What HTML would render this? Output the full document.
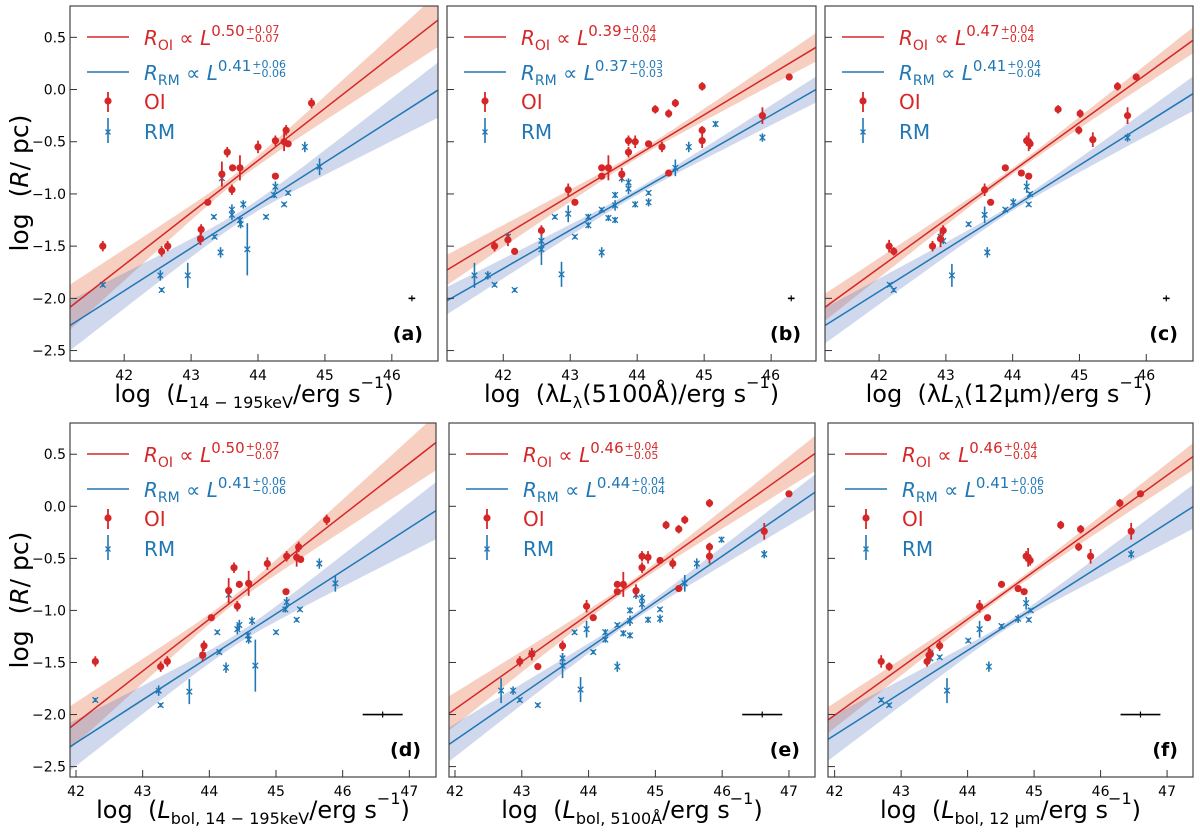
<!DOCTYPE html>
<html><head><meta charset="utf-8"><style>
html,body{margin:0;padding:0;background:#fff;}
svg{display:block;font-family:"DejaVu Sans","Liberation Sans",sans-serif;}
</style></head><body>
<svg id="fig" width="1200" height="832" viewBox="0 0 1200 832" xmlns="http://www.w3.org/2000/svg"></svg>
<script>
// ===== Data (panel a) =====
const oiX_a=[41.68,42.56,42.65,43.15,43.14,43.25,43.46,43.61,43.54,43.62,43.73,44.0,44.26,44.26,44.42,44.39,44.45,44.8];
const oiY_a=[-1.50,-1.55,-1.50,-1.34,-1.43,-1.08,-0.81,-0.96,-0.60,-0.75,-0.75,-0.55,-0.49,-0.83,-0.39,-0.50,-0.52,-0.13];
const oiE_a=[0.05,0.05,0.05,0.05,0.06,0.03,0.12,0.05,0.05,0.03,0.12,0.06,0.05,0.03,0.05,0.09,0.03,0.05];
const rmX_a=[41.68,42.54,42.56,42.95,43.14,43.34,43.35,43.44,43.46,43.61,43.61,43.73,43.74,43.78,43.84,44.12,44.24,44.26,44.39,44.45,44.7,44.92];
const rmY_a=[-1.87,-1.78,-1.92,-1.78,-1.43,-1.22,-1.41,-1.56,-0.85,-1.15,-1.20,-1.25,-1.29,-1.10,-1.53,-1.22,-1.01,-0.93,-1.10,-0.99,-0.55,-0.74];
const rmE_a=[0.02,0.05,0.02,0.12,0.04,0.02,0.02,0.05,0.03,0.05,0.05,0.04,0.04,0.04,0.25,0.02,0.03,0.05,0.02,0.02,0.05,0.08];
// ===== Data (panel b) =====
const oiX_b=[41.87,42.07,42.17,42.57,42.97,43.07,43.47,43.47,43.57,43.77,43.87,43.87,43.97,44.17,44.27,44.37,44.47,44.47,44.57,44.97,44.97,44.97,45.87,46.27];
const oiY_b=[-1.50,-1.44,-1.55,-1.35,-0.96,-1.08,-0.75,-0.83,-0.75,-0.81,-0.49,-0.60,-0.50,-0.52,-0.19,-0.55,-0.23,-0.80,-0.13,0.03,-0.39,-0.49,-0.25,0.12];
const oiE_b=[0.05,0.06,0.03,0.05,0.06,0.03,0.03,0.03,0.12,0.06,0.05,0.05,0.06,0.03,0.04,0.05,0.04,0.03,0.04,0.04,0.04,0.07,0.08,0.03];
const rmX_b=[41.57,41.77,41.87,42.07,42.17,42.57,42.57,42.77,42.87,42.97,43.07,43.27,43.27,43.47,43.47,43.57,43.67,43.67,43.67,43.77,43.87,43.87,43.97,44.17,44.17,44.57,44.77,45.17,45.87];
const rmY_b=[-1.78,-1.78,-1.87,-1.41,-1.92,-1.53,-1.45,-1.22,-1.77,-1.19,-1.41,-1.22,-1.30,-1.15,-1.56,-1.23,-1.01,-1.11,-1.25,-0.85,-0.89,-0.95,-1.10,-0.99,-1.08,-0.75,-0.55,-0.33,-0.46];
const rmE_b=[0.12,0.04,0.02,0.04,0.02,0.15,0.05,0.02,0.12,0.08,0.02,0.03,0.03,0.02,0.05,0.03,0.03,0.05,0.03,0.04,0.04,0.05,0.03,0.02,0.04,0.08,0.05,0.03,0.04];
// ===== Data (panel c) =====
const oiX_c=[42.15,42.22,42.80,42.92,42.96,43.58,43.67,43.89,44.13,44.24,44.21,44.24,44.26,44.68,44.99,45.01,45.20,45.57,45.72,45.85];
const oiY_c=[-1.50,-1.55,-1.50,-1.43,-1.35,-0.96,-1.08,-0.75,-0.80,-0.83,-0.49,-0.50,-0.52,-0.19,-0.39,-0.23,-0.48,0.03,-0.25,0.12];
const oiE_c=[0.06,0.04,0.05,0.08,0.05,0.06,0.03,0.03,0.03,0.03,0.05,0.09,0.05,0.04,0.04,0.04,0.07,0.04,0.08,0.03];
const rmX_c=[42.16,42.22,42.92,42.96,43.09,43.34,43.58,43.62,43.89,44.01,44.21,44.24,44.26,45.72];
const rmY_c=[-1.87,-1.92,-1.41,-1.45,-1.78,-1.29,-1.20,-1.56,-1.15,-1.08,-0.93,-1.10,-1.00,-0.46];
const rmE_c=[0.02,0.02,0.04,0.03,0.11,0.02,0.08,0.05,0.02,0.04,0.06,0.02,0.02,0.04];
// ===== Data (panel d) =====
const oiX_d=[42.29,43.27,43.37,43.92,43.90,44.03,44.29,44.42,44.37,44.45,44.59,44.87,45.16,45.15,45.34,45.31,45.37,45.76];
const oiY_d=[-1.49,-1.54,-1.49,-1.34,-1.43,-1.07,-0.81,-0.96,-0.59,-0.75,-0.74,-0.55,-0.48,-0.82,-0.39,-0.49,-0.51,-0.13];
const oiE_d=[0.05,0.05,0.05,0.05,0.06,0.03,0.12,0.05,0.05,0.03,0.12,0.06,0.05,0.03,0.05,0.09,0.03,0.05];
const rmX_d=[42.29,43.24,43.27,43.70,43.90,44.12,44.15,44.25,44.29,44.42,44.45,44.58,44.59,44.64,44.69,45.0,45.14,45.16,45.31,45.36,45.65,45.89];
const rmY_d=[-1.86,-1.77,-1.91,-1.78,-1.43,-1.21,-1.40,-1.55,-0.85,-1.18,-1.14,-1.24,-1.28,-1.10,-1.53,-1.21,-0.99,-0.92,-1.09,-0.99,-0.55,-0.74];
const rmE_d=[0.02,0.05,0.02,0.12,0.04,0.02,0.02,0.05,0.03,0.05,0.05,0.04,0.04,0.04,0.25,0.02,0.03,0.05,0.02,0.02,0.05,0.08];
// ===== Data (panel e) =====
const oiX_e=[42.97,43.15,43.24,43.61,43.97,44.07,44.43,44.43,44.52,44.71,44.80,44.80,44.89,45.07,45.16,45.26,45.35,45.35,45.44,45.81,45.81,45.81,46.63,47.0];
const oiY_e=[-1.49,-1.42,-1.54,-1.34,-0.96,-1.07,-0.75,-0.82,-0.75,-0.81,-0.48,-0.59,-0.49,-0.52,-0.18,-0.55,-0.22,-0.79,-0.13,0.03,-0.39,-0.48,-0.24,0.12];
const oiE_e=[0.05,0.06,0.03,0.05,0.06,0.03,0.03,0.03,0.12,0.06,0.05,0.05,0.06,0.03,0.04,0.05,0.04,0.03,0.04,0.04,0.04,0.07,0.08,0.03];
const rmX_e=[42.69,42.87,42.97,43.15,43.24,43.61,43.61,43.79,43.88,43.97,44.07,44.25,44.25,44.43,44.43,44.52,44.62,44.62,44.62,44.71,44.80,44.80,44.89,45.07,45.07,45.44,45.62,45.99,46.63];
const rmY_e=[-1.77,-1.77,-1.86,-1.41,-1.91,-1.46,-1.53,-1.21,-1.76,-1.18,-1.40,-1.21,-1.28,-1.14,-1.54,-1.22,-1.00,-1.10,-1.24,-0.85,-0.88,-0.94,-1.09,-0.99,-1.08,-0.74,-0.55,-0.32,-0.46];
const rmE_e=[0.12,0.04,0.02,0.04,0.02,0.05,0.12,0.02,0.12,0.08,0.02,0.03,0.03,0.02,0.05,0.03,0.03,0.05,0.03,0.04,0.04,0.05,0.03,0.02,0.04,0.08,0.05,0.03,0.04];
// ===== Data (panel f) =====
const oiX_f=[42.70,42.82,43.39,43.42,43.44,43.58,44.18,44.30,44.51,44.76,44.85,44.88,44.91,44.94,45.40,45.67,45.70,45.85,46.29,46.46,46.60];
const oiY_f=[-1.49,-1.54,-1.49,-1.43,-1.42,-1.34,-0.96,-1.07,-0.75,-0.79,-0.82,-0.48,-0.49,-0.52,-0.18,-0.39,-0.22,-0.48,0.03,-0.24,0.12];
const oiE_f=[0.06,0.04,0.05,0.08,0.05,0.05,0.06,0.03,0.03,0.03,0.03,0.05,0.09,0.05,0.04,0.04,0.04,0.07,0.04,0.08,0.03];
const rmX_f=[42.70,42.82,43.44,43.44,43.58,43.69,44.01,44.18,44.32,44.51,44.76,44.88,44.92,44.95,46.46];
const rmY_f=[-1.86,-1.91,-1.41,-1.46,-1.45,-1.77,-1.29,-1.18,-1.54,-1.15,-1.08,-0.93,-1.09,-1.00,-0.46];
const rmE_f=[0.02,0.02,0.04,0.03,0.02,0.12,0.02,0.08,0.05,0.02,0.04,0.06,0.02,0.02,0.04];
// ===== Fits: value at log L = 44, slope =====
const fitOI_at44=[-0.68,-0.629,-0.781,-1.084,-1.037,-1.085];
const fitOI_slope=[0.50,0.387,0.464,0.499,0.4555,0.461];
const fitRM_at44=[-1.108,-0.98,-1.128,-1.446,-1.363,-1.384];
const fitRM_slope=[0.41,0.367,0.403,0.413,0.442,0.407];
const bandOI_pivot=[43.7,44.0,44.0,44.3,44.6,44.6];
const bandOI_w0=[0.04,0.03,0.03,0.04,0.03,0.03];
const bandOI_ws=[0.085,0.05,0.045,0.085,0.06,0.045];
const bandRM_pivot=[43.8,44.0,44.0,44.4,44.6,44.6];
const bandRM_w0=[0.05,0.03,0.03,0.05,0.03,0.03];
const bandRM_ws=[0.09,0.045,0.06,0.09,0.06,0.075];
const expOI=[["0.50","+0.07","−0.07"],["0.39","+0.04","−0.04"],["0.47","+0.04","−0.04"],["0.50","+0.07","−0.07"],["0.46","+0.04","−0.05"],["0.46","+0.04","−0.04"]];
const expRM=[["0.41","+0.06","−0.06"],["0.37","+0.03","−0.03"],["0.41","+0.04","−0.04"],["0.41","+0.06","−0.06"],["0.44","+0.04","−0.04"],["0.41","+0.06","−0.05"]];
const errCrossX=[46.3,46.3,46.3,46.6,46.6,46.6];
const errCrossHalf=[0.05,0.05,0.05,0.3,0.3,0.3];
const errCrossY=-2.0;
const yTicks=[0.5,0.0,-0.5,-1.0,-1.5,-2.0,-2.5];
const xTicksTop=[42,43,44,45,46];
const xTicksBot=[42,43,44,45,46,47];
const panelLetters=["(a)","(b)","(c)","(d)","(e)","(f)"];

const NS="http://www.w3.org/2000/svg";
const svg=document.getElementById('fig');
const RED="#d62728", BLUE="#1f77b4";
function mk(tag,attrs,parent){const e=document.createElementNS(NS,tag);for(const k in attrs)e.setAttribute(k,attrs[k]);(parent||svg).appendChild(e);return e;}

const panels=[
 {L:70,R:438,T:6,B:361,x0:41.19,x1:46.69,ticks:xTicksTop,oiX:oiX_a,oiY:oiY_a,oiE:oiE_a,rmX:rmX_a,rmY:rmY_a,rmE:rmE_a},
 {L:447,R:816,T:6,B:361,x0:41.16,x1:46.67,ticks:xTicksTop,oiX:oiX_b,oiY:oiY_b,oiE:oiE_b,rmX:rmX_b,rmY:rmY_b,rmE:rmE_b},
 {L:825,R:1193,T:6,B:361,x0:41.19,x1:46.70,ticks:xTicksTop,oiX:oiX_c,oiY:oiY_c,oiE:oiE_c,rmX:rmX_c,rmY:rmY_c,rmE:rmE_c},
 {L:70,R:436,T:423,B:777,x0:41.91,x1:47.40,ticks:xTicksBot,oiX:oiX_d,oiY:oiY_d,oiE:oiE_d,rmX:rmX_d,rmY:rmY_d,rmE:rmE_d},
 {L:449,R:815,T:423,B:777,x0:41.91,x1:47.39,ticks:xTicksBot,oiX:oiX_e,oiY:oiY_e,oiE:oiE_e,rmX:rmX_e,rmY:rmY_e,rmE:rmE_e},
 {L:828,R:1193,T:423,B:777,x0:41.90,x1:47.39,ticks:xTicksBot,oiX:oiX_f,oiY:oiY_f,oiE:oiE_f,rmX:rmX_f,rmY:rmY_f,rmE:rmE_f}
];
const LG="log\u00a0\u00a0(";
const xTitles=[
 [[LG,""],["L","i"],["14\u00a0−\u00a0195keV","s"],["/erg s",""],["−1","u"],[")",""]],
 [[LG+"λ",""],["L","i"],["λ","s"],["(5100Å)/erg s",""],["−1","u"],[")",""]],
 [[LG+"λ",""],["L","i"],["λ","s"],["(12μm)/erg s",""],["−1","u"],[")",""]],
 [[LG,""],["L","i"],["bol,\u00a014\u00a0−\u00a0195keV","s"],["/erg s",""],["−1","u"],[")",""]],
 [[LG,""],["L","i"],["bol,\u00a05100Å","s"],["/erg s",""],["−1","u"],[")",""]],
 [[LG,""],["L","i"],["bol,\u00a012\u00a0μm","s"],["/erg s",""],["−1","u"],[")",""]]
];
const Y0=0.8,Y1=-2.6;

panels.forEach((p,i)=>{
 const g=mk('g',{});
 
 
 const sx=v=>p.L+(v-p.x0)/(p.x1-p.x0)*(p.R-p.L);
 const sy=v=>p.T+(Y0-v)/(Y0-Y1)*(p.B-p.T);
 const cid='clip'+i;
 const cp=mk('clipPath',{id:cid},g);
 mk('rect',{x:p.L,y:p.T,width:p.R-p.L,height:p.B-p.T},cp);
 const plot=mk('g',{'clip-path':'url(#'+cid+')'},g);
 function band(a44,b,piv,w0,ws,fill,name){
  let up=[],lo=[];
  for(let k=0;k<=60;k++){const x=p.x0+(p.x1-p.x0)*k/60;const y=a44+b*(x-44);const hw=Math.sqrt(w0*w0+Math.pow(ws*(x-piv),2));up.push(sx(x).toFixed(1)+','+sy(y+hw).toFixed(1));lo.unshift(sx(x).toFixed(1)+','+sy(y-hw).toFixed(1));}
  const e=mk('polygon',{points:up.concat(lo).join(' '),fill:fill},plot);
  
  
 }
 band(fitOI_at44[i],fitOI_slope[i],bandOI_pivot[i],bandOI_w0[i],bandOI_ws[i],'rgba(234,130,90,0.38)','oi-fit-band');
 band(fitRM_at44[i],fitRM_slope[i],bandRM_pivot[i],bandRM_w0[i],bandRM_ws[i],'rgba(95,125,195,0.30)','rm-fit-band');
 function fline(a44,b,col,name){
  const e=mk('line',{x1:sx(p.x0),y1:sy(a44+b*(p.x0-44)),x2:sx(p.x1),y2:sy(a44+b*(p.x1-44)),stroke:col,'stroke-width':1.5},plot);
  
  
 }
 fline(fitOI_at44[i],fitOI_slope[i],RED,'oi-fit-line');
 fline(fitRM_at44[i],fitRM_slope[i],BLUE,'rm-fit-line');
 p.rmX.forEach((x,j)=>{
  const cx=sx(x),cy=sy(p.rmY[j]),e=p.rmE[j];
  const m=mk('g',{stroke:BLUE,'stroke-width':1.3},plot);
  
  
  mk('line',{x1:cx,x2:cx,y1:sy(p.rmY[j]+e),y2:sy(p.rmY[j]-e),'stroke-width':1.6},m);
  mk('path',{d:`M${cx-2.8},${cy-2.8}L${cx+2.8},${cy+2.8}M${cx-2.8},${cy+2.8}L${cx+2.8},${cy-2.8}`,fill:'none'},m);
 });
 p.oiX.forEach((x,j)=>{
  const cx=sx(x),cy=sy(p.oiY[j]),e=p.oiE[j];
  const m=mk('g',{},plot);
  
  
  mk('line',{x1:cx,x2:cx,y1:sy(p.oiY[j]+e),y2:sy(p.oiY[j]-e),stroke:RED,'stroke-width':1.8},m);
  mk('circle',{cx:cx,cy:cy,r:3.6,fill:RED},m);
 });
 const ec=mk('g',{stroke:'#000','stroke-width':1.6},g);
 
 
 const ecx=sx(errCrossX[i]),ecy=sy(errCrossY);
 mk('line',{x1:sx(errCrossX[i]-errCrossHalf[i]),x2:sx(errCrossX[i]+errCrossHalf[i]),y1:ecy,y2:ecy},ec);
 mk('line',{x1:ecx,x2:ecx,y1:ecy-3,y2:ecy+3,'stroke-width':1.2},ec);
 const fr=mk('rect',{x:p.L,y:p.T,width:p.R-p.L,height:p.B-p.T,fill:'none',stroke:'#444','stroke-width':1.2},g);
 
 
 yTicks.forEach(v=>{
  const y=sy(v);
  mk('line',{x1:p.L,x2:p.L+7,y1:y,y2:y,stroke:'#333','stroke-width':1},g);
  if(i===0||i===3){
   const t=mk('text',{x:p.L-4,y:y+5,'text-anchor':'end','font-size':14,fill:'#000'},g);
   
   
   t.textContent=(v<0?'−':'')+Math.abs(v).toFixed(1);
  }
 });
 p.ticks.forEach(v=>{
  const x=sx(v);
  mk('line',{x1:x,x2:x,y1:p.B,y2:p.B-7,stroke:'#333','stroke-width':1},g);
  const t=mk('text',{x:x,y:p.B+19,'text-anchor':'middle','font-size':14,fill:'#000'},g);
  
  
  t.textContent=v;
 });
 const xt=mk('text',{x:(p.L+p.R)/2,y:p.B+41,'text-anchor':'middle','font-size':24,fill:'#000'},g);
 
 
 xTitles[i].forEach(([s,k])=>{
  const ts=mk('tspan',{},xt);
  if(k==='i')ts.setAttribute('font-style','italic');
  if(k==='s'){ts.setAttribute('font-size',16);ts.setAttribute('dy',6);}
  if(k==='u'){ts.setAttribute('font-size',16);ts.setAttribute('dy',-14);}
  ts.textContent=s;
  if(k==='s'){const r=mk('tspan',{dy:-6},xt);r.textContent='\u200b';}
  if(k==='u'){const r=mk('tspan',{dy:14},xt);r.textContent='\u200b';}
 });
 const pl=mk('text',{x:p.R-15,y:p.B-21,'text-anchor':'end','font-size':19,'font-weight':'bold',fill:'#000'},g);
 
 
 pl.textContent=panelLetters[i];
 const lg=mk('g',{},g);
 
 
 const lx=p.L;
 [[RED,'OI',expOI[i],31],[BLUE,'RM',expRM[i],66]].forEach(([col,sub,ex,yy])=>{
  const en=mk('g',{},lg);
  
  
  mk('line',{x1:lx+17,x2:lx+59,y1:p.T+yy,y2:p.T+yy,stroke:col,'stroke-width':1.5},en);
  const t=mk('text',{x:lx+74,y:p.T+yy+8,'font-size':20,fill:col},en);
  const a=mk('tspan',{'font-style':'italic'},t);a.textContent='R';
  const b=mk('tspan',{'font-size':14,dy:5},t);b.textContent=sub;
  const c=mk('tspan',{dy:-5},t);c.textContent='\u00a0∝\u00a0';
  const d=mk('tspan',{'font-style':'italic'},t);d.textContent='L';
  const e=mk('tspan',{'font-size':15,dy:-9},t);e.textContent=ex[0];
  let w=120;
  try{w=t.getComputedTextLength();}catch(err){}
  const tp=mk('text',{x:lx+74+w+1,y:p.T+yy-4,'font-size':11,fill:col},en);tp.textContent=ex[1];
  const tm=mk('text',{x:lx+74+w+1,y:p.T+yy+5,'font-size':11,fill:col},en);tm.textContent=ex[2];
 });
 const eo=mk('g',{},lg);
 
 
 mk('line',{x1:lx+38,x2:lx+38,y1:p.T+86,y2:p.T+106,stroke:RED,'stroke-width':1.8},eo);
 mk('circle',{cx:lx+38,cy:p.T+95,r:3.6,fill:RED},eo);
 const to=mk('text',{x:lx+74,y:p.T+103,'font-size':20,fill:RED},eo);to.textContent='OI';
 const er=mk('g',{},lg);
 
 
 const ry=p.T+126;
 mk('line',{x1:lx+38,x2:lx+38,y1:ry-14,y2:ry+11,stroke:BLUE,'stroke-width':1.6},er);
 mk('path',{d:`M${lx+35.5},${ry-2.5}L${lx+40.5},${ry+2.5}M${lx+35.5},${ry+2.5}L${lx+40.5},${ry-2.5}`,stroke:BLUE,'stroke-width':1.3},er);
 const tr=mk('text',{x:lx+74,y:p.T+133,'font-size':20,fill:BLUE},er);tr.textContent='RM';
});
[[183],[600]].forEach(([cy],k)=>{
 const t=mk('text',{transform:`translate(28,${cy}) rotate(-90)`,'text-anchor':'middle','font-size':25,fill:'#000'});
 
 
 const a=mk('tspan',{},t);a.textContent='log\u00a0\u00a0(';
 const b=mk('tspan',{'font-style':'italic'},t);b.textContent='R';
 const c=mk('tspan',{},t);c.textContent='/\u00a0pc)';
});
</script>
</body></html>
